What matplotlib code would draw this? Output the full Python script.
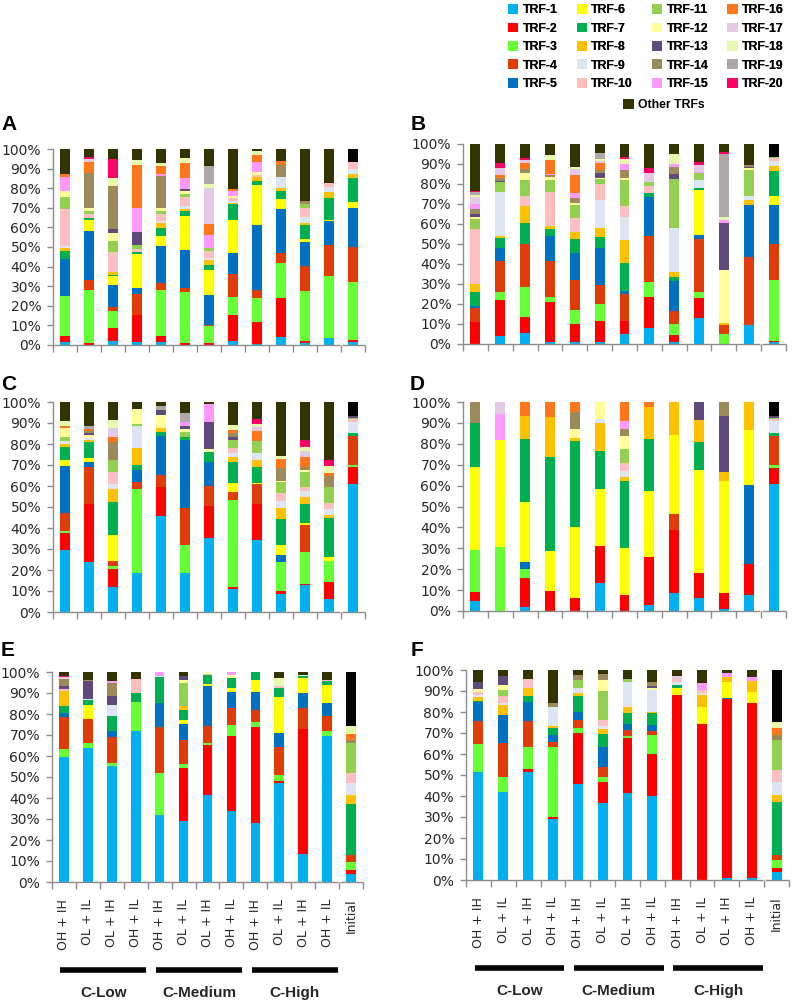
import matplotlib
matplotlib.use("Agg")
import matplotlib.pyplot as plt
import matplotlib.transforms as mtransforms
from matplotlib.patches import Patch
import numpy as np

# ---------------- data ----------------
series_labels = ["TRF-1", "TRF-2", "TRF-3", "TRF-4", "TRF-5", "TRF-6", "TRF-7",
                 "TRF-8", "TRF-9", "TRF-10", "TRF-11", "TRF-12", "TRF-13", "TRF-14",
                 "TRF-15", "TRF-16", "TRF-17", "TRF-18", "TRF-19", "TRF-20", "Other TRFs"]
series_colors = ["#00B0F0", "#FF0000", "#66FF33", "#E03C0A", "#0070C0", "#FFFF00", "#00B050",
                 "#FFC000", "#DCE6F2", "#FFBFBF", "#92D050", "#FFFF99", "#604A7B", "#9C8A5A",
                 "#FF99FF", "#FF7519", "#E4C8E4", "#E4FAAA", "#B0A8A8", "#FF0066", "#333300"]
initial_other_color = "#000000"

categories = ["OH + IH", "OL + IL", "OL + IH", "OH + IL",
              "OH + IH", "OL + IL", "OL + IH", "OH + IL",
              "OH + IH", "OL + IL", "OL + IH", "OH + IL", "Initial"]
groups = ["C-Low", "C-Medium", "C-High"]

# each bar: {series number (1-20, 21 = Other TRFs): percent}
panel_A = [
    {1: 1.5, 2: 3, 3: 20.5, 5: 19, 7: 4, 8: 1.5, 9: 1, 10: 19, 11: 6, 12: 3, 15: 7, 16: 1.5, 21: 13},
    {2: 1, 3: 27, 4: 5, 5: 25, 6: 6, 7: 1, 10: 2, 11: 1.5, 12: 1.5, 14: 18, 16: 5.5, 17: 1.5, 20: 1, 21: 4},
    {1: 2, 2: 6.7, 3: 8.6, 4: 2.2, 5: 11, 6: 4.5, 7: 0.7, 8: 1.7, 10: 10.2, 11: 5.4, 12: 4, 13: 2, 14: 22.3, 18: 3.7, 20: 10, 21: 5},
    {1: 1.7, 2: 13.6, 4: 10.7, 5: 3, 6: 17, 7: 1, 10: 1.5, 11: 2, 13: 6.5, 15: 12, 16: 22, 18: 2.5, 21: 5.5},
    {1: 1.7, 2: 2.8, 3: 23.5, 4: 3.5, 5: 19, 6: 5, 7: 4, 8: 2.5, 9: 1.5, 10: 3.5, 11: 1.5, 12: 1.5, 14: 16, 15: 1, 16: 4.5, 18: 1.5, 21: 7},
    {2: 1.2, 3: 26, 4: 2, 5: 19, 6: 17.5, 7: 2.5, 8: 1, 9: 1.5, 10: 4.5, 11: 1.5, 12: 1.5, 13: 1.4, 15: 5.5, 16: 7.3, 18: 2.9, 21: 4.4},
    {2: 1.2, 3: 8.3, 4: 0.5, 5: 15.5, 6: 12.8, 7: 2.7, 8: 2.4, 9: 1, 10: 3.5, 11: 1.7, 15: 6.3, 16: 5.7, 17: 18.6, 18: 1.7, 19: 9.5, 21: 8.5},
    {1: 2, 2: 13.3, 3: 9, 4: 11.5, 5: 11, 6: 16.5, 7: 8, 8: 0.5, 9: 1, 10: 1.5, 12: 1, 15: 2.5, 16: 1, 21: 20.5},
    {1: 0.7, 2: 11, 3: 12.5, 4: 4, 5: 33, 6: 20.5, 7: 2, 8: 2, 10: 1, 12: 1.5, 15: 5, 16: 3.5, 18: 2.5, 21: 0.8},
    {1: 4, 2: 20, 3: 18, 4: 5, 5: 22.5, 6: 4.8, 7: 4.5, 8: 1.5, 9: 5.5, 14: 6, 16: 2.2, 21: 6},
    {1: 1.2, 2: 0.8, 3: 25.5, 4: 12.8, 5: 12.4, 6: 1.3, 7: 7.2, 8: 0.8, 9: 3.5, 10: 4.2, 11: 2.1, 14: 1.7, 21: 26.5},
    {1: 3.5, 3: 31.5, 4: 15.5, 5: 12.3, 6: 0.5, 7: 11, 8: 3, 9: 2.5, 10: 2.5, 21: 17},
    {1: 1.7, 2: 0.8, 3: 29.8, 4: 17.9, 5: 19.5, 6: 3.4, 7: 12.3, 8: 1.6, 9: 3, 10: 3.2, 21: 6.8},
]
panel_B = [
    {2: 10.8, 4: 7, 5: 1.2, 7: 7.2, 8: 3.7, 10: 27.7, 11: 5, 12: 0.9, 13: 1.5, 14: 2.6, 15: 2.4, 17: 3.4, 18: 1.3, 19: 1.2, 20: 0.8, 21: 23.3},
    {1: 4.2, 2: 17.8, 3: 4, 4: 15.5, 5: 6.5, 7: 5, 8: 1, 9: 22, 11: 5, 13: 0.7, 14: 1.3, 16: 1.5, 17: 3.5, 20: 2.5, 21: 9.5},
    {1: 5.3, 2: 8, 3: 15.4, 4: 21.2, 7: 10.5, 8: 8.4, 10: 5.4, 11: 8, 12: 3.3, 14: 2, 16: 3, 17: 1.5, 20: 0.8, 21: 7.2},
    {1: 1.2, 2: 20, 3: 2.5, 4: 18, 5: 12.5, 7: 3.5, 8: 1.3, 10: 17.2, 11: 6, 12: 1.5, 14: 0.7, 15: 0.7, 16: 7, 18: 2.5, 21: 5.5},
    {1: 0.8, 2: 9, 3: 7, 4: 15, 5: 13.6, 7: 7, 8: 3.5, 10: 7, 11: 6.7, 12: 0.8, 14: 2.5, 15: 2.5, 16: 9.2, 17: 2.8, 18: 1, 21: 11.7},
    {1: 1, 2: 10.2, 3: 8.3, 4: 9.5, 5: 18.3, 7: 5.5, 8: 4.2, 9: 14.2, 10: 7.8, 11: 2.2, 12: 0.8, 13: 2.2, 14: 1.5, 16: 3.5, 17: 1, 18: 1, 19: 3, 21: 4.5},
    {1: 5, 2: 6.5, 4: 13, 5: 1.5, 7: 14, 8: 11.5, 9: 11, 10: 5.5, 11: 13, 12: 1, 14: 3.7, 15: 3, 18: 2.5, 20: 1.2, 21: 6.3},
    {1: 7.8, 2: 15, 3: 7.5, 4: 22.5, 5: 19.2, 7: 1.7, 10: 3.5, 11: 2, 17: 4.5, 20: 2.3, 21: 11.8},
    {1: 1.2, 2: 3.3, 3: 5.3, 4: 6.4, 5: 15, 7: 1.8, 8: 2.3, 9: 21.7, 11: 24.5, 13: 2.5, 14: 3.5, 15: 1.5, 18: 5, 21: 4.7},
    {1: 12.8, 2: 10, 3: 3, 4: 26.5, 5: 2.2, 6: 22.5, 7: 0.8, 9: 4.2, 11: 3.3, 15: 0.8, 17: 3.4, 20: 1.7, 21: 8.8},
    {3: 4.8, 4: 4.7, 8: 1.2, 12: 26.5, 13: 23, 15: 1.7, 18: 1.7, 19: 31.3, 20: 1, 21: 4},
    {1: 9.5, 4: 34.2, 5: 25.8, 8: 2.3, 9: 2, 11: 13.3, 12: 0.8, 13: 0.5, 14: 1, 21: 10.5},
    {1: 0.8, 2: 0.7, 3: 30.5, 4: 18, 5: 19.5, 6: 4.7, 7: 12.5, 8: 2.5, 9: 2.5, 10: 1.5, 11: 0.5, 21: 6.5},
]
panel_C = [
    {1: 29.4, 2: 8.2, 3: 0.8, 4: 9, 5: 22.3, 6: 2.8, 7: 6, 8: 1.5, 9: 1.6, 11: 1.6, 12: 4.4, 16: 1, 18: 2.3, 21: 9.2},
    {1: 23.5, 2: 27.5, 4: 17.5, 5: 2.4, 6: 2.3, 7: 7.2, 8: 1.3, 9: 0.8, 12: 1.3, 13: 1.1, 14: 0.8, 16: 1, 19: 1.3, 21: 11.5},
    {1: 11.9, 2: 8.7, 3: 1.1, 4: 2.4, 6: 12.4, 7: 16, 8: 6, 9: 2.4, 10: 5.6, 11: 5.9, 14: 8.4, 16: 2.4, 17: 4.4, 18: 3.5, 21: 8.8},
    {1: 18.7, 3: 40, 4: 3.4, 5: 5.6, 7: 2.3, 8: 8.2, 9: 10.2, 11: 1.2, 12: 7.2, 21: 3.2},
    {1: 45.5, 2: 13.9, 4: 5.9, 5: 18.5, 7: 1.9, 8: 2, 12: 6, 13: 2.3, 19: 2, 21: 2},
    {1: 18.7, 3: 13.3, 4: 17.4, 5: 32.3, 7: 1.6, 11: 2.4, 12: 1.6, 13: 1.1, 15: 2, 19: 4.3, 21: 5.3},
    {1: 35.5, 2: 15, 4: 9.5, 5: 11.8, 7: 4.5, 12: 1.4, 13: 12.8, 15: 8.7, 21: 1},
    {1: 11.1, 2: 0.8, 3: 41.4, 4: 3.7, 6: 4.3, 7: 10, 8: 2.4, 9: 1.9, 10: 2.6, 11: 3.8, 13: 1.3, 14: 1.9, 16: 1.6, 18: 2.1, 21: 11.1},
    {1: 34.3, 2: 17.2, 4: 9.2, 6: 0.8, 7: 7.2, 8: 3.5, 9: 3.6, 11: 5.6, 16: 4.8, 17: 1.9, 18: 1.3, 20: 2.4, 21: 8},
    {1: 8.7, 2: 1.1, 3: 13.7, 5: 3.5, 6: 4.7, 7: 12, 8: 5.5, 9: 3.2, 10: 3.9, 11: 4.8, 12: 0.8, 14: 6.1, 16: 3.9, 18: 1.6, 21: 25.5},
    {1: 12.7, 2: 0.8, 3: 15.1, 4: 12.7, 6: 1.1, 7: 9, 8: 3.5, 9: 2.6, 10: 2.2, 11: 6.9, 12: 0.8, 14: 1.6, 16: 4.7, 17: 3.2, 18: 1.9, 20: 3.2, 21: 18},
    {1: 6, 2: 8.3, 3: 9.8, 6: 2.1, 7: 18.6, 8: 1.5, 9: 2.6, 10: 3.1, 11: 7.5, 14: 5.1, 16: 1.6, 18: 3.6, 20: 2.8, 21: 27.5},
    {1: 61, 2: 8, 3: 1.2, 4: 13.4, 7: 1.6, 9: 5.5, 10: 1.1, 11: 0.5, 13: 0.8, 21: 6.9},
]
panel_D = [
    {1: 4.6, 2: 4.5, 3: 20, 6: 39.7, 7: 21.1, 14: 10.1},
    {3: 30.7, 6: 50.9, 15: 12.5, 17: 5.9},
    {1: 1.9, 2: 13.9, 3: 4.5, 5: 3.2, 6: 28.5, 7: 30.4, 8: 10.7, 16: 6.9},
    {2: 9.4, 6: 19.2, 7: 45.3, 8: 18.9, 16: 7.2},
    {2: 6.2, 6: 33.8, 7: 41.3, 8: 1.6, 12: 4.3, 14: 8, 16: 4.8},
    {1: 13.6, 2: 17.4, 6: 27.7, 7: 18.1, 8: 13.4, 9: 2.1, 12: 8},
    {2: 7.5, 6: 22.5, 7: 32.1, 8: 2.2, 9: 2.9, 10: 3.5, 11: 6.9, 12: 5.9, 14: 3.7, 15: 3.7, 16: 9.1},
    {1: 2.7, 2: 23.2, 6: 31.5, 7: 25, 8: 15.2, 16: 2.4},
    {1: 8.8, 2: 29.9, 4: 7.5, 6: 37.8, 8: 16},
    {1: 6.2, 2: 12.2, 6: 49.1, 7: 13.3, 8: 10.7, 13: 8.5},
    {1: 0.8, 2: 8, 6: 53.3, 8: 4.3, 13: 26.9, 14: 6.7},
    {1: 7.5, 2: 15.2, 5: 37.6, 6: 26.4, 8: 13.3},
    {1: 61.5, 2: 7.7, 3: 1.2, 4: 14, 7: 1.5, 9: 5.7, 10: 1, 11: 0.6, 13: 1, 21: 6.8},
]
panel_E = [
    {1: 59.7, 3: 3.5, 4: 15.3, 5: 1.9, 7: 3.2, 8: 7.4, 10: 0.8, 13: 1.5, 14: 3.5, 17: 0.8, 20: 0.5, 21: 1.8},
    {1: 63.7, 3: 2.7, 4: 11.1, 6: 6.9, 7: 2.1, 9: 0.6, 13: 8.4, 14: 0.8, 21: 3.7},
    {1: 55.3, 3: 1.5, 4: 12.2, 5: 3.1, 7: 7, 9: 5.3, 13: 4, 14: 6.3, 15: 0.8, 21: 4.5},
    {1: 72.1, 3: 13.4, 7: 4.5, 10: 6.7, 21: 3.3},
    {1: 31.8, 3: 20, 4: 21.9, 5: 11.5, 7: 12.4, 9: 0.6, 15: 1.8},
    {1: 29, 2: 25.1, 3: 2.1, 4: 11.5, 5: 7.6, 6: 1.6, 7: 4.8, 8: 2.1, 11: 10.7, 12: 1.3, 13: 2.2, 21: 1.8},
    {1: 41.4, 2: 23.9, 3: 1.1, 4: 8, 5: 19.1, 6: 0.8, 7: 4.4, 10: 0.5, 12: 0.8},
    {1: 33.9, 2: 35.7, 3: 5.2, 4: 8, 5: 7.6, 6: 2, 7: 4.7, 12: 1.6, 15: 1.3},
    {1: 27.9, 2: 46.1, 3: 2, 4: 6, 5: 8.3, 6: 5.7, 7: 4},
    {1: 47.3, 2: 0.9, 3: 2.8, 4: 13.2, 5: 6.7, 6: 17, 7: 4.5, 10: 0.8, 18: 3.9, 21: 2.9},
    {1: 13.2, 2: 59.6, 4: 10, 5: 7.2, 6: 7.1, 7: 1.3, 18: 0.6, 21: 1.2},
    {1: 69.6, 3: 2.1, 4: 7.4, 5: 6.1, 6: 8.8, 7: 1.5, 10: 0.5, 21: 4},
    {1: 4, 2: 1.9, 3: 3.7, 4: 3.1, 7: 24.4, 8: 4.3, 9: 5.9, 10: 4.5, 11: 14.3, 14: 1.6, 16: 2.8, 18: 3.9, 21: 25.6},
]
panel_F = [
    {1: 51.6, 3: 13.2, 4: 11.1, 5: 9, 7: 0.5, 8: 1.6, 9: 1.1, 10: 1.6, 12: 1.1, 13: 3.6, 21: 5.6},
    {1: 42, 3: 7.2, 4: 15.9, 5: 13.5, 8: 4.7, 9: 0.8, 10: 3.5, 11: 2.9, 12: 2.4, 13: 4.2, 21: 2.9},
    {1: 51.6, 2: 1.1, 3: 10.5, 4: 12.5, 5: 9.2, 7: 2.7, 8: 3.7, 10: 4.3, 21: 4.4},
    {1: 28.9, 2: 1.3, 3: 33, 4: 2.7, 5: 3.1, 7: 3.2, 8: 1.1, 9: 9.2, 14: 1.9, 21: 15.6},
    {1: 45.7, 2: 24.1, 3: 2.4, 4: 4, 5: 4, 7: 7.4, 8: 1.3, 9: 2.4, 11: 3.9, 14: 2.4, 21: 2.4},
    {1: 36.5, 2: 10.3, 3: 2.4, 4: 4.8, 5: 9.2, 7: 6.3, 8: 2.2, 9: 1.6, 10: 2.9, 11: 14, 12: 5, 14: 2.9, 21: 1.9},
    {1: 41.6, 2: 25.9, 3: 1.1, 4: 2.8, 5: 2.9, 7: 5.1, 8: 3.1, 9: 11.9, 11: 1.2, 21: 4.4},
    {1: 40, 2: 20, 3: 9, 4: 2.1, 5: 2.7, 7: 5.6, 8: 0.8, 9: 10.3, 12: 0.8, 13: 1.1, 14: 2.1, 21: 5.6},
    {2: 88.1, 6: 3.2, 7: 1.6, 9: 1.5, 10: 1.5, 17: 1.3, 21: 2.8},
    {2: 73.8, 6: 8.3, 8: 5.6, 9: 1.1, 10: 1, 15: 3.7, 21: 6},
    {1: 0.8, 2: 85.7, 5: 0.3, 6: 7.9, 8: 2.4, 15: 1.6, 21: 1.6},
    {1: 0.8, 2: 83.3, 6: 5.6, 8: 5.2, 15: 1.6, 21: 3.5},
    {1: 4, 2: 1.6, 3: 3.9, 4: 2.4, 7: 25.4, 8: 3.2, 9: 6.3, 10: 5.6, 11: 14.3, 14: 2.4, 16: 3.2, 18: 3.2, 21: 24.6},
]

# ---------------- drawing ----------------
W, H = 800, 1006
fig = plt.figure(figsize=(W / 100, H / 100), dpi=100)
SPINE = "#8C8C8C"
TXT = "#262626"


def px_axes(left, top, right, bottom):
    return fig.add_axes([left / W, 1 - bottom / H, (right - left) / W, (bottom - top) / H])


def draw_panel(ax, bars, letter, letter_xy, xlabels=False):
    n = len(bars)
    x = np.arange(n)
    mat = np.array([[b.get(k, 0.0) for k in range(1, 22)] for b in bars], dtype=float)
    mat = mat / mat.sum(axis=1, keepdims=True) * 100.0
    bottom = np.zeros(n)
    for j in range(21):
        cols = [series_colors[j]] * n
        if j == 20:
            cols[-1] = initial_other_color
        ax.bar(x, mat[:, j], 0.4, bottom=bottom, color=cols, linewidth=0)
        bottom += mat[:, j]
    ax.set_xlim(-0.5, n - 0.5)
    ax.set_ylim(0, 100)
    ax.set_yticks(range(0, 101, 10))
    ax.set_yticklabels([f"{v}%" for v in range(0, 101, 10)])
    for s in ("top", "right", "bottom"):
        ax.spines[s].set_visible(False)
    ax.spines["left"].set_color(SPINE)
    ax.spines["left"].set_linewidth(1)
    # broken category axis before the Initial bar
    ax.plot([-0.5, n - 1.55], [0, 0], color=SPINE, lw=1, clip_on=False, solid_capstyle="butt")
    ax.plot([n - 1.45, n - 0.5], [0, 0], color=SPINE, lw=1, clip_on=False, solid_capstyle="butt")
    ax.set_xticks(np.arange(-0.5, n, 1.0), minor=True)
    ax.tick_params(axis="x", which="minor", length=5, color=SPINE, direction="out", width=1)
    ax.tick_params(axis="y", length=4, color=SPINE, direction="out", width=1,
                   labelsize=10, labelcolor=TXT, pad=4.5)
    if xlabels:
        ax.set_xticks(x)
        ax.set_xticklabels(categories, rotation=90, fontsize=9, color=TXT)
        ax.tick_params(axis="x", which="major", length=0, pad=12)
        trans = mtransforms.blended_transform_factory(ax.transData, ax.transAxes)
        for g, name in enumerate(groups):
            x0, x1 = 4 * g - 0.15, 4 * g + 3.45
            ax.plot([x0, x1], [-0.42, -0.42], color="black", lw=4, transform=trans,
                    clip_on=False, solid_capstyle="butt")
            ax.text((x0 + x1) / 2, -0.53, name, transform=trans, ha="center", va="center",
                    fontsize=11, fontweight="bold", family="Liberation Sans", color=TXT)
    else:
        ax.set_xticks([])
    fig.text(letter_xy[0] / W, 1 - letter_xy[1] / H, letter, fontsize=15, fontweight="bold",
             family="Liberation Sans", ha="left", va="center")


axA = px_axes(53, 149, 365, 345)
axB = px_axes(463, 144, 786, 344)
axC = px_axes(53, 402, 365, 612)
axD = px_axes(463, 402, 786, 611)
axE = px_axes(52, 672, 363, 882)
axF = px_axes(466, 670, 789, 880)

draw_panel(axA, panel_A, "A", (1, 124))
draw_panel(axB, panel_B, "B", (411, 124))
draw_panel(axC, panel_C, "C", (1, 385))
draw_panel(axD, panel_D, "D", (410, 385))
draw_panel(axE, panel_E, "E", (1, 651), xlabels=True)
draw_panel(axF, panel_F, "F", (411, 651), xlabels=True)

# legend
leg_font = {"family": "Liberation Sans", "weight": "bold", "size": 8.8}
handles = [Patch(facecolor=series_colors[i], edgecolor="none") for i in range(20)]
leg1 = fig.legend(handles, series_labels[:20], ncol=4, loc="upper left",
                  bbox_to_anchor=(502 / W, 1 + 2 / H), frameon=False, borderpad=0,
                  handlelength=0.85, handleheight=0.85, handletextpad=0.35,
                  labelspacing=0.52, columnspacing=1.55, prop=leg_font)
fig.add_artist(leg1)
fig.legend([Patch(facecolor=series_colors[20], edgecolor="none")], [series_labels[20]],
           loc="upper left", bbox_to_anchor=(617 / W, 1 - 93 / H), frameon=False, borderpad=0,
           handlelength=0.85, handleheight=0.85, handletextpad=0.35, prop=leg_font)

fig.savefig("out.png", dpi=100)
